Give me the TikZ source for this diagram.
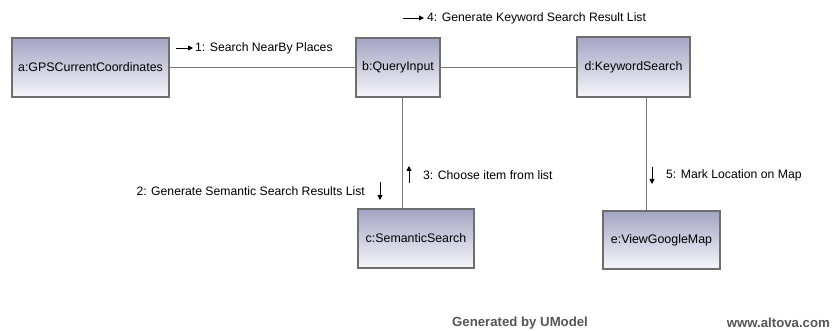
\documentclass[tikz,border=0pt]{standalone}
\usepackage{fontspec}
\setmainfont{Liberation Sans}
\usepackage{tikz}
\usetikzlibrary{arrows.meta, positioning, calc}
\definecolor{cTop}{RGB}{164,164,196}
\definecolor{cBottom}{RGB}{246,246,250}
\definecolor{cBorder}{RGB}{110,110,110}
\definecolor{cLink}{RGB}{120,120,120}
\definecolor{cFoot}{RGB}{85,85,85}
\tikzset{
	obj/.style   ={rectangle, draw=cBorder, line width=1.2pt, top color=cTop, bottom color=cBottom, align=center, inner sep=0pt, font=\fontsize{12.4}{14}\selectfont},
	link/.style  ={draw=cLink, line width=1pt},
	msg/.style   ={-{Triangle[length=5pt, width=5pt]}, line width=0.9pt, black},
	msglbl/.style={inner sep=0pt, font=\fontsize{12.2}{14}\selectfont},
	foot/.style  ={inner sep=0pt, text=cFoot, font=\fontsize{13.2}{15}\selectfont\bfseries},
}
\begin{document}
\begin{tikzpicture}[x=1pt, y=-1pt]
	\useasboundingbox (0,0) rectangle (833,331);
	% objects
	\node[obj, minimum width=157, minimum height=59] (gps) at (90.5,67.5) {a:GPSCurrentCoordinates};
	\node[obj, minimum width=84, minimum height=59] (query) at (398,67.5) {b:QueryInput};
	\node[obj, minimum width=113, minimum height=60] (keyword) at (633.5,67) {d:KeywordSearch};
	\node[obj, minimum width=116, minimum height=59] (semantic) at (416,238.5) {c:SemanticSearch};
	\node[obj, minimum width=117, minimum height=58] (gmap) at (661.5,240) {e:ViewGoogleMap};
	% links
	\draw[link] (gps.east |- 0,67.5) -- (query.west |- 0,67.5);
	\draw[link] (query.east |- 0,67.5) -- (keyword.west |- 0,67.5);
	\draw[link] ([xshift=4]query.south) -- ([xshift=4]query.south |- semantic.north);
	\draw[link] ([xshift=12.5]keyword.south) -- ([xshift=12.5]keyword.south |- gmap.north);
	% messages
	\node[msglbl, anchor=west] (m1) at (195,48) {1: Search NearBy Places};
	\draw[msg] ([xshift=-19]m1.west) -- ([xshift=-2]m1.west);
	\node[msglbl, anchor=east] (m2) at (365,191) {2: Generate Semantic Search Results List};
	\draw[msg] ($(m2.east)+(15,-9)$) -- ++(0,18);
	\node[msglbl, anchor=west] (m3) at (423,175) {3: Choose item from list};
	\draw[msg] ($(m3.west)+(-14,8)$) -- ++(0,-17);
	\node[msglbl, anchor=west] (m4) at (427,18) {4: Generate Keyword Search Result List};
	\draw[msg] ([xshift=-24]m4.west) -- ([xshift=-3]m4.west);
	\node[msglbl, anchor=west] (m5) at (666,175) {5: Mark Location on Map};
	\draw[msg] ($(m5.west)+(-14,-8)$) -- ++(0,17);
	% footer
	\node[foot, anchor=west] (gen) at (452,323) {Generated by UModel};
	\node[foot, anchor=east] (web) at (830,323) {www.altova.com};
\end{tikzpicture}
\end{document}
